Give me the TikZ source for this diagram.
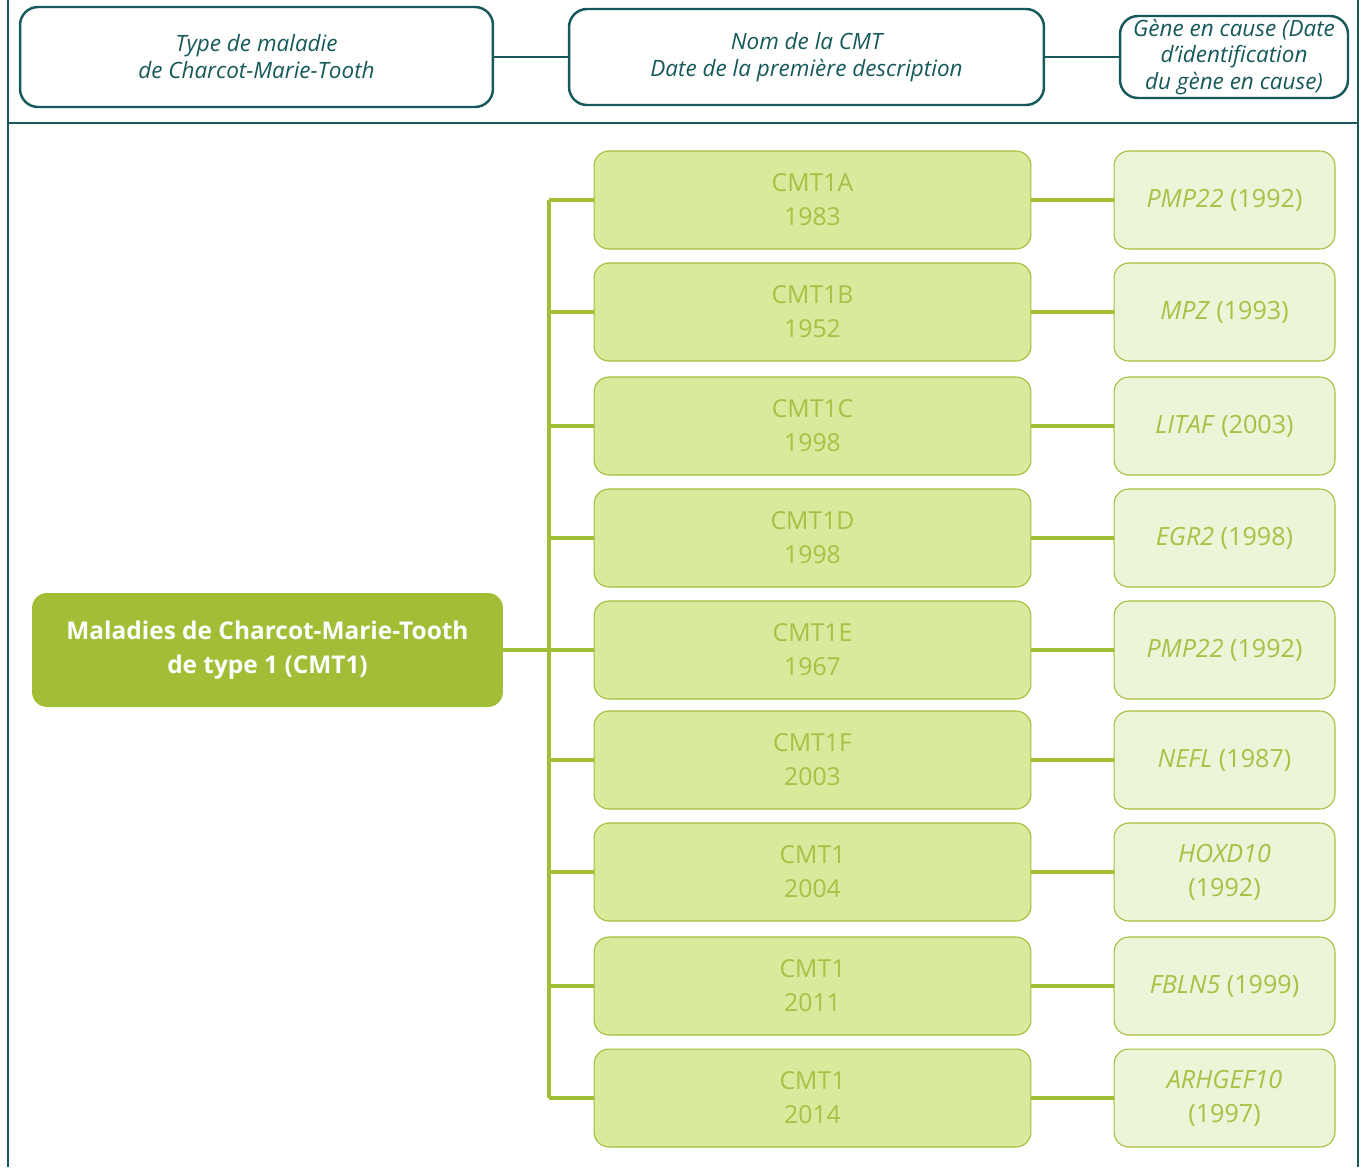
\documentclass[tikz,border=0pt]{standalone}
\usepackage{fontspec}
\setmainfont{Open Sans}
\usepackage{tikz}
\usetikzlibrary{positioning}
\definecolor{tealdark}{HTML}{17595A}
\definecolor{rootgreen}{HTML}{A2BE37}
\definecolor{midfill}{HTML}{D9EA9C}
\definecolor{genefill}{HTML}{EDF5D8}
\definecolor{greentext}{HTML}{A6C145}

\begin{document}
\begin{tikzpicture}
    [x=0.02cm,y=-0.02cm,
     headbox/.style={draw=tealdark,line width=1.4pt,rounded corners=0.36cm,fill=white,
        text=tealdark,align=center,inner sep=0pt,font=\fontsize{12.8}{15.3}\selectfont\itshape},
     rootbox/.style={fill=rootgreen,rounded corners=0.3cm,minimum width=9.42cm,minimum height=2.28cm,
        text=white,align=center,inner sep=0pt,font=\fontsize{13.9}{19.3}\selectfont\bfseries},
     cmtbox/.style={draw=rootgreen,line width=0.6pt,fill=midfill,rounded corners=0.3cm,
        minimum width=8.74cm,minimum height=1.96cm,text=greentext,align=center,inner sep=0pt,
        font=\fontsize{14.1}{19.3}\selectfont},
     genebox/.style={draw=rootgreen,line width=0.6pt,fill=genefill,rounded corners=0.3cm,
        minimum width=4.42cm,minimum height=1.96cm,text=greentext,align=center,inner sep=0pt,
        font=\fontsize{14.3}{19.3}\selectfont},
     headline/.style={draw=tealdark,line width=1.4pt},
     link/.style={draw=rootgreen,line width=1.8pt}]
\useasboundingbox (0,0) rectangle (1362,1167);
%frame
\draw[tealdark,line width=0.9pt] (8,0) -- (8,1167);
\draw[tealdark,line width=0.9pt] (1358,0) -- (1358,1167);
\draw[tealdark,line width=0.9pt] (8,123) -- (1358,123);
%header row
\node[headbox,minimum width=9.46cm,minimum height=2.0cm] (htype) at (256.5,57)
    {Type de maladie\\de Charcot-Marie-Tooth};
\node[headbox,minimum width=9.5cm,minimum height=1.92cm] (hname) at (806.5,57)
    {Nom de la CMT\\Date de la première description};
\node[headbox,minimum width=4.56cm,minimum height=1.64cm] (hgene) at (1234,57)
    {Gène en cause (Date\\d’identification\\du gène en cause)};
\draw[headline] (htype) -- (hname);
\draw[headline] (hname) -- (hgene);
%root node
\node[rootbox] (root) at (267.5,650) {Maladies de Charcot-Marie-Tooth\\de type 1 (CMT1)};
%rows
\foreach \i/\y/\cmt/\yr/\gene in {1/200/CMT1A/1983/{\textit{PMP22} (1992)},
                                  2/312/CMT1B/1952/{\textit{MPZ} (1993)},
                                  3/426/CMT1C/1998/{\textit{LITAF} (2003)},
                                  4/538/CMT1D/1998/{\textit{EGR2} (1998)},
                                  5/650/CMT1E/1967/{\textit{PMP22} (1992)},
                                  6/760/CMT1F/2003/{\textit{NEFL} (1987)},
                                  7/872/CMT1/2004/{\textit{HOXD10}\\(1992)},
                                  8/986/CMT1/2011/{\textit{FBLN5} (1999)},
                                  9/1098/CMT1/2014/{\textit{ARHGEF10}\\(1997)}}{
  \coordinate (t\i) at (549,\y);
  \node[cmtbox] (m\i) at (812.5,\y) {\cmt\\\yr};
  \node[genebox] (g\i) at (1224.5,\y) {\gene};
  \draw[link] (t\i) -- (m\i);
  \draw[link] (m\i) -- (g\i);
}
\draw[link] (t1) -- (t9);
\draw[link] (root) -- (t5);
\end{tikzpicture}
\end{document}
